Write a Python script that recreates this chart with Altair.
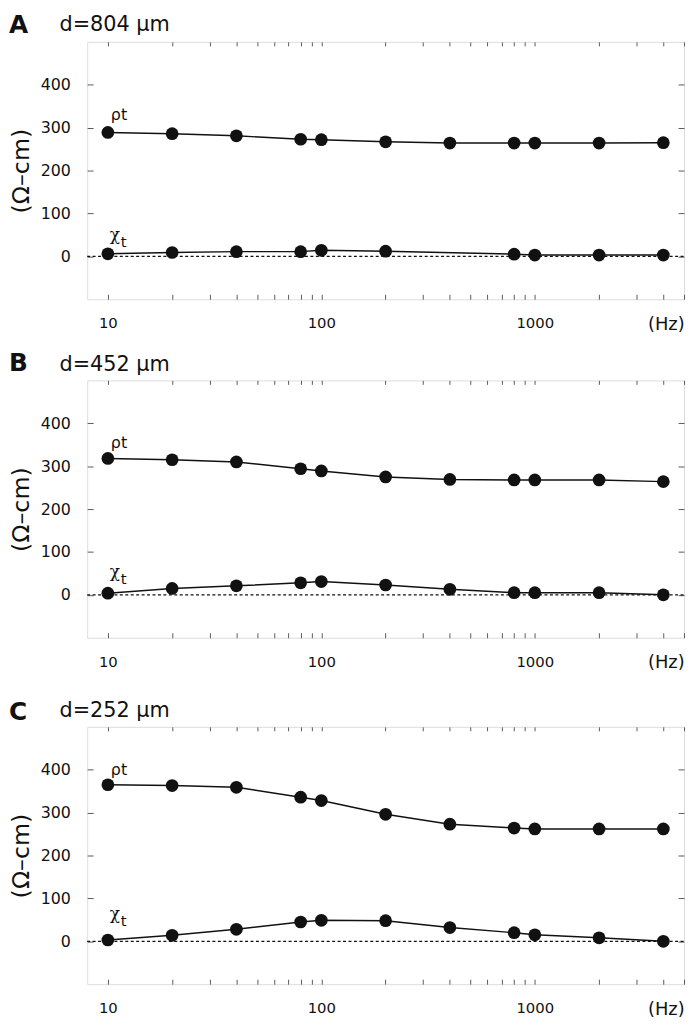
import altair as alt
import pandas as pd

# ---------------- data ----------------
freqs = [10, 20, 40, 80, 100, 200, 400, 800, 1000, 2000, 4000]

rho_A = [289, 286, 281, 273, 272, 267, 264, 264, 264, 264, 265]
chi_A_freqs = [10, 20, 40, 80, 100, 200, 800, 1000, 2000, 4000]
chi_A = [6, 9, 11, 11, 14, 12, 5, 3, 3, 3]

rho_B = [318, 315, 310, 294, 289, 275, 269, 268, 268, 268, 264]
chi_B = [4, 15, 21, 28, 31, 23, 13, 5, 5, 5, 0]

rho_C = [365, 363, 359, 336, 328, 296, 273, 264, 262, 262, 262]
chi_C = [3, 14, 28, 45, 49, 48, 32, 20, 15, 8, 0]

letters = ["A", "B", "C"]
titles = ["d=804 µm", "d=452 µm", "d=252 µm"]
unit_label = "(Hz)"
unit_freq = 4000

x_domain = [8, 5000]
y_domain = [-100, 500]
x_tick_values = [10, 20, 30, 40, 50, 60, 70, 80, 90,
                 100, 200, 300, 400, 500, 600, 700, 800, 900,
                 1000, 2000, 3000, 4000, 5000]
y_tick_values = [0, 100, 200, 300, 400]

FONT = "DejaVu Sans"
GREEK = "DejaVu Serif"
INK = "#111111"
FRAME = "#5a5a5a"
W, H = 603, 260

x_label_expr = ("datum.value == 10 ? '10' : datum.value == 100 ? '100' : "
                "datum.value == 1000 ? '1000' : ''")


def panel(letter, title, rho_f, rho_v, chi_f, chi_v, head, lab_dy, extra_top=None):
    df = pd.DataFrame({
        "freq": list(rho_f) + list(chi_f),
        "value": list(rho_v) + list(chi_v),
        "series": ["rho"] * len(rho_f) + ["chi"] * len(chi_f),
    })
    xs = alt.Scale(type="log", domain=x_domain, nice=False)
    ys = alt.Scale(domain=y_domain, nice=False, zero=False)

    x_bottom = alt.X("freq:Q", scale=xs, axis=alt.Axis(
        orient="bottom", values=x_tick_values, labelExpr=x_label_expr,
        tickSize={"expr": "-5"}, labelPadding=22,
        tickColor=FRAME, tickWidth=1, domain=False, grid=False,
        labelOverlap=False, labelFlush=False, labelFont=FONT,
        labelFontSize=15, labelColor=INK, title=None))
    y_left = alt.Y("value:Q", scale=ys, axis=alt.Axis(
        orient="left", values=y_tick_values, tickSize={"expr": "-6"},
        labelPadding=23, tickColor=FRAME, domain=False, grid=False,
        labelFont=FONT, labelFontSize=16, labelColor=INK,
        title="(Ω–cm)", titleFont=FONT, titleFontSize=24,
        titleFontWeight="normal", titleColor=INK, titlePadding=7))

    line = alt.Chart(df).mark_line(color=INK, strokeWidth=1.5).encode(
        x=x_bottom, y=y_left, detail="series:N")
    pts = alt.Chart(df).mark_circle(size=165, color=INK, opacity=1).encode(
        x=alt.X("freq:Q", scale=xs, axis=None),
        y=alt.Y("value:Q", scale=ys, axis=None))

    zero_df = pd.DataFrame({"freq": x_domain, "value": [0, 0]})
    zero = alt.Chart(zero_df).mark_line(
        color=INK, strokeWidth=1.2, strokeDash=[3, 2.5]).encode(
        x=alt.X("freq:Q", scale=xs, axis=alt.Axis(
            orient="top", values=x_tick_values, labels=False,
            tickSize={"expr": "-4"},
            tickColor=FRAME, domain=False, grid=False, title=None)),
        y=alt.Y("value:Q", scale=ys, axis=alt.Axis(
            orient="right", values=y_tick_values, labels=False,
            tickSize={"expr": "-6"}, tickColor=FRAME, domain=False,
            grid=False, title=None)))

    rho_lab = pd.DataFrame({"freq": [rho_f[0]], "value": [rho_v[0]], "txt": ["ρt"]})
    chi_lab = pd.DataFrame({"freq": [chi_f[0]], "value": [chi_v[0]], "txt": ["χ"]})
    sub_lab = pd.DataFrame({"freq": [chi_f[0]], "value": [chi_v[0]], "txt": ["t"]})

    def lab(d, dx, dy, font, size):
        return alt.Chart(d).mark_text(
            align="left", baseline="alphabetic", dx=dx, dy=dy, font=font,
            fontSize=size, color=INK).encode(
            x=alt.X("freq:Q", scale=xs, axis=None),
            y=alt.Y("value:Q", scale=ys, axis=None), text="txt:N")

    labs = [lab(rho_lab, 3, lab_dy[0], FONT, 16),
            lab(chi_lab, 2, lab_dy[1], GREEK, 17),
            lab(sub_lab, 13, lab_dy[1] + 7, FONT, 15)]

    unit_df = pd.DataFrame({"freq": [unit_freq], "txt": [unit_label]})
    unit = alt.Chart(unit_df).mark_text(
        align="center", baseline="top", dx=3, font=FONT, fontSize=18,
        color=INK).encode(
        x=alt.X("freq:Q", scale=xs, axis=None), y=alt.value(H + 17),
        text="txt:N")

    hd = pd.DataFrame({"t": [letter]})
    letter_mark = alt.Chart(hd).mark_text(
        align="left", baseline="middle", font=FONT, fontSize=25,
        fontWeight="bold", color=INK).encode(
        text="t:N", x=alt.value(-79), y=alt.value(head[0]))
    td = pd.DataFrame({"t": [title]})
    title_mark = alt.Chart(td).mark_text(
        align="left", baseline="middle", font=FONT, fontSize=21,
        color=INK).encode(
        text="t:N", x=alt.value(-28), y=alt.value(head[1]))

    layers = [line, pts, zero] + labs + [unit, letter_mark, title_mark]
    if extra_top is not None:
        # invisible spacer that reserves room above the panel header
        ed = pd.DataFrame({"k": [0]})
        layers.append(alt.Chart(ed).mark_rule(opacity=0, strokeWidth=1).encode(
            x=alt.value(0), x2=alt.value(10), y=alt.value(extra_top)))

    return alt.layer(*layers).resolve_axis(x="independent", y="independent").properties(
        width=W, height=H)


pA = panel(letters[0], titles[0], freqs, rho_A, chi_A_freqs, chi_A,
           (-17.3, -17.5), (-12.5, -14), extra_top=-33)
pB = panel(letters[1], titles[1], freqs, rho_B, freqs, chi_B,
           (-17, -15.5), (-11, -16.5))
pC = panel(letters[2], titles[2], freqs, rho_C, freqs, chi_C,
           (-14.5, -16), (-9.5, -21), extra_top=-37.5)

chart = alt.concat(pA, pB, pC, columns=1, spacing=16, align="none").properties(
    padding={"top": -5, "left": 0, "right": 0, "bottom": 0}).configure_view(
    stroke=FRAME, strokeWidth=1.2).configure(background="white")

chart.save("out.html", embed_options={"renderer": "svg", "actions": False})
